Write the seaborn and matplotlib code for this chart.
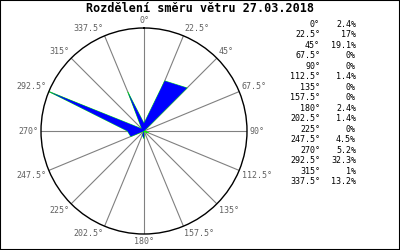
import numpy as np
import matplotlib
matplotlib.use("Agg")
import matplotlib.pyplot as plt
import seaborn as sns
import pandas as pd
from matplotlib.patches import Rectangle

title = "Rozdělení směru větru 27.03.2018"
directions = [0, 22.5, 45, 67.5, 90, 112.5, 135, 157.5, 180, 202.5, 225, 247.5, 270, 292.5, 315, 337.5]
direction_labels = ["0°", "22.5°", "45°", "67.5°", "90°", "112.5°", "135°", "157.5°",
                    "180°", "202.5°", "225°", "247.5°", "270°", "292.5°", "315°", "337.5°"]
percent = [2.4, 17, 19.1, 0, 0, 1.4, 0, 0, 2.4, 1.4, 0, 4.5, 5.2, 32.3, 1, 13.2]

sns.set_style("white")
plt.rcParams['font.family'] = ['DejaVu Sans Mono', 'DejaVu Sans']

fig = plt.figure(figsize=(4, 2.5), dpi=100)
fig.patch.set_facecolor("white")

cx, cy, R = 144, 131, 103
ax = fig.add_axes([(cx - R) / 400, (250 - cy - R) / 250, 2 * R / 400, 2 * R / 250], projection="polar")
ax.set_theta_zero_location("N")
ax.set_theta_direction(-1)
rmax = max(percent)
ax.set_ylim(0, rmax)
ax.grid(False)
ax.set_xticks([])
ax.set_yticks([])
ax.spines["polar"].set_color("black")
ax.spines["polar"].set_linewidth(1.0)
ax.set_facecolor("white")

theta = np.deg2rad(directions)
df = pd.DataFrame({"theta": np.append(theta, theta[0]), "r": percent + [percent[0]]})

# spokes
for t in theta:
    ax.plot([t, t], [0, rmax], color="#808080", lw=0.8, zorder=1)

# wind rose polygon
sns.lineplot(data=df, x="theta", y="r", ax=ax, color="#00ff00", lw=0.6, sort=False,
             estimator=None, zorder=2)
ax.fill(df["theta"], df["r"], color="#0000ff", lw=0, zorder=3)

# direction labels
for t, lab in zip(theta, direction_labels):
    s, c = np.sin(t), np.cos(t)
    ha = "center" if abs(s) < 1e-6 else ("left" if s > 0 else "right")
    va = "center" if abs(c) < 1e-6 else ("bottom" if c > 0 else "top")
    ax.annotate(lab, xy=(t, rmax), xytext=(2 * s, 2 * c), textcoords="offset points",
                ha=ha, va=va, fontsize=6, color="#606060", annotation_clip=False)

# title
fig.text(0.5, 1 - 8.5 / 250, title, ha="center", va="center", fontsize=8.5,
         fontweight="bold", color="black")

# table
y0, dy = 24.5, 10.47
for i, (lab, p) in enumerate(zip(direction_labels, percent)):
    y = 1 - (y0 + i * dy) / 250
    fig.text(320 / 400, y, lab, ha="right", va="center", fontsize=6, color="black")
    fig.text(356 / 400, y, "{:g}%".format(p), ha="right", va="center", fontsize=6, color="black")

fig.add_artist(Rectangle((0, 0), 1, 1, transform=fig.transFigure, fill=False,
                         edgecolor="black", lw=1.5))

fig.savefig("out.png", dpi=100)
